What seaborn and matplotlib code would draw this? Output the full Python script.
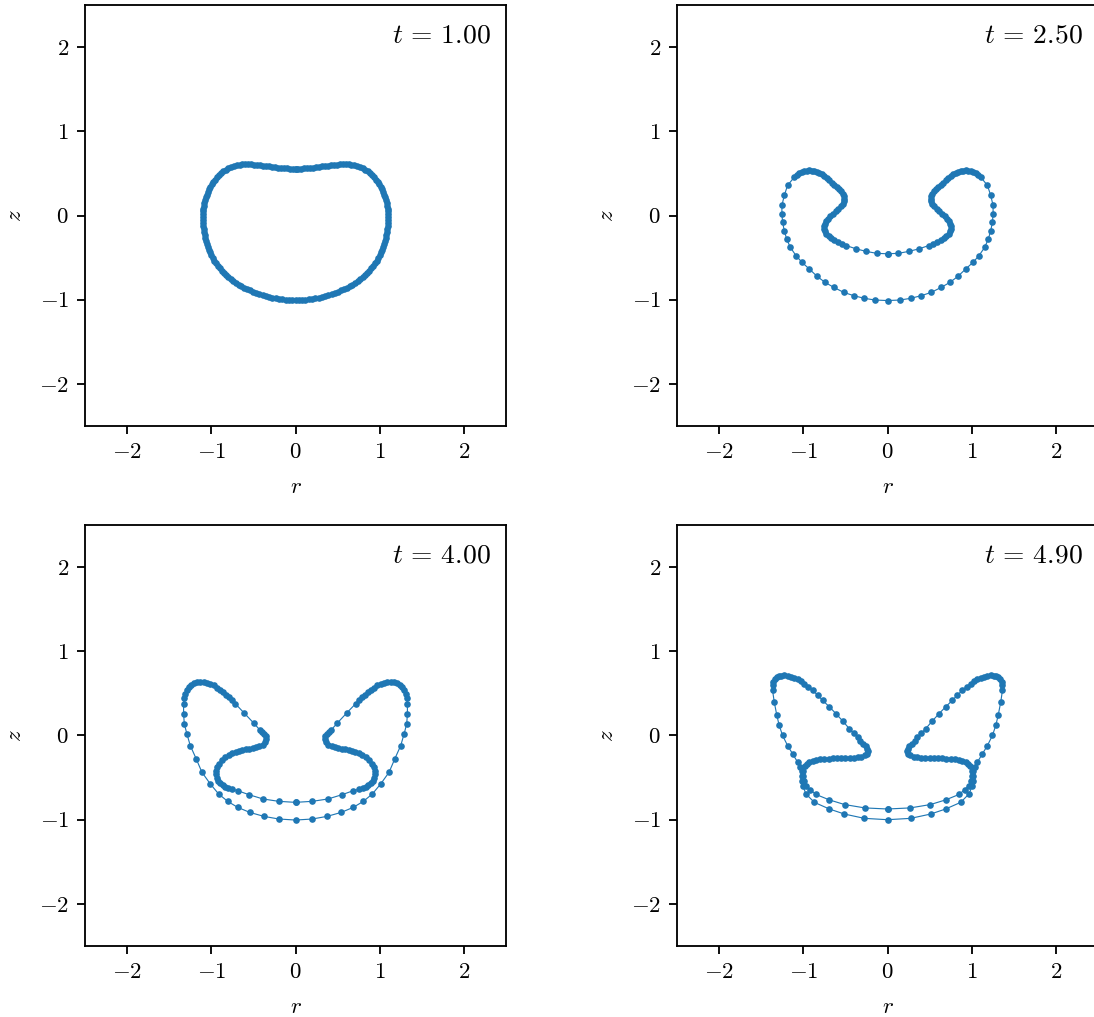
import matplotlib
matplotlib.use("Agg")
import matplotlib.pyplot as plt
import seaborn as sns
import pandas as pd

# Interface nodes (right half, r >= 0); the shape is axisymmetric, so the
# left half is the mirror image r -> -r.
times = ["1.00", "2.50", "4.00", "4.90"]

shape_t100 = [
    (0.000, 0.555), (0.035, 0.5555), (0.070, 0.557), (0.105, 0.559), (0.140, 0.561),
    (0.175, 0.564), (0.210, 0.568), (0.245, 0.572), (0.280, 0.577), (0.315, 0.582),
    (0.350, 0.588), (0.385, 0.593), (0.420, 0.597), (0.455, 0.601), (0.490, 0.605),
    (0.525, 0.608), (0.560, 0.609), (0.595, 0.609), (0.630, 0.607), (0.665, 0.603),
    (0.700, 0.597), (0.735, 0.588), (0.770, 0.575), (0.800, 0.562), (0.830, 0.545),
    (0.858, 0.526), (0.885, 0.503), (0.910, 0.479), (0.933, 0.454), (0.955, 0.427),
    (0.975, 0.399), (0.993, 0.370), (1.010, 0.340), (1.026, 0.310), (1.040, 0.279),
    (1.053, 0.247), (1.064, 0.215), (1.074, 0.182), (1.083, 0.149), (1.090, 0.116),
    (1.096, 0.082), (1.100, 0.048), (1.103, 0.014), (1.104, -0.020), (1.103, -0.055),
    (1.100, -0.090), (1.096, -0.125), (1.091, -0.160), (1.085, -0.195), (1.078, -0.230),
    (1.070, -0.265), (1.061, -0.300), (1.051, -0.335), (1.040, -0.370), (1.027, -0.404),
    (1.013, -0.438), (0.998, -0.471), (0.982, -0.504), (0.964, -0.536), (0.945, -0.567),
    (0.924, -0.597), (0.902, -0.626), (0.878, -0.655), (0.853, -0.682), (0.826, -0.708),
    (0.798, -0.733), (0.769, -0.757), (0.739, -0.779), (0.708, -0.800), (0.676, -0.820),
    (0.643, -0.839), (0.609, -0.857), (0.574, -0.874), (0.539, -0.890), (0.503, -0.905),
    (0.466, -0.919), (0.429, -0.932), (0.391, -0.944), (0.353, -0.955), (0.314, -0.965),
    (0.275, -0.974), (0.236, -0.982), (0.197, -0.989), (0.158, -0.994), (0.118, -0.998),
    (0.079, -1.000), (0.040, -1.000), (0.000, -1.000),
]

shape_t250 = [
    (0.00, -0.455), (0.13, -0.449), (0.25, -0.427), (0.37, -0.397), (0.49, -0.357),
    (0.54, -0.337), (0.59, -0.317), (0.63, -0.292), (0.67, -0.266), (0.70, -0.242),
    (0.73, -0.218), (0.745, -0.190), (0.75, -0.159), (0.75, -0.130), (0.742, -0.099),
    (0.73, -0.070), (0.71, -0.040), (0.685, -0.010), (0.651, 0.020), (0.615, 0.050),
    (0.583, 0.080), (0.555, 0.110), (0.532, 0.139), (0.518, 0.168), (0.512, 0.198),
    (0.515, 0.228), (0.532, 0.258), (0.55, 0.288), (0.571, 0.317), (0.60, 0.338),
    (0.631, 0.357), (0.66, 0.390), (0.69, 0.417), (0.72, 0.445), (0.75, 0.468),
    (0.78, 0.488), (0.81, 0.504), (0.84, 0.518), (0.869, 0.528), (0.90, 0.534),
    (0.929, 0.536), (0.96, 0.533), (0.988, 0.528), (1.018, 0.518), (1.048, 0.504),
    (1.08, 0.480), (1.107, 0.456), (1.187, 0.357), (1.226, 0.238), (1.254, 0.119),
    (1.254, 0.020), (1.246, -0.080), (1.226, -0.179), (1.198, -0.278), (1.155, -0.377),
    (1.087, -0.476), (1.016, -0.556), (0.929, -0.635), (0.837, -0.722), (0.742, -0.794),
    (0.639, -0.853), (0.52, -0.913), (0.401, -0.952), (0.274, -0.984), (0.147, -1.004),
    (0.00, -1.010),
]

shape_t400 = [
    (0.00, -0.794), (0.198, -0.782), (0.385, -0.754), (0.556, -0.702), (0.687, -0.655),
    (0.75, -0.640), (0.80, -0.628), (0.833, -0.615), (0.865, -0.593), (0.893, -0.567),
    (0.915, -0.535), (0.93, -0.500), (0.94, -0.460), (0.94, -0.417), (0.93, -0.375),
    (0.905, -0.335), (0.87, -0.290), (0.833, -0.258), (0.79, -0.230), (0.75, -0.210),
    (0.71, -0.195), (0.67, -0.183), (0.63, -0.174), (0.59, -0.166), (0.55, -0.158),
    (0.51, -0.150), (0.47, -0.140), (0.43, -0.128), (0.39, -0.108), (0.36, -0.080),
    (0.348, -0.045), (0.355, -0.010), (0.375, 0.015), (0.40, 0.040), (0.425, 0.067),
    (0.496, 0.147), (0.607, 0.266), (0.714, 0.377), (0.755, 0.420), (0.794, 0.456),
    (0.83, 0.485), (0.865, 0.515), (0.893, 0.536), (0.93, 0.565), (0.972, 0.595),
    (1.01, 0.612), (1.052, 0.623), (1.09, 0.632), (1.131, 0.635), (1.17, 0.632),
    (1.21, 0.623), (1.245, 0.600), (1.27, 0.575), (1.29, 0.540), (1.31, 0.496),
    (1.322, 0.440), (1.329, 0.377), (1.329, 0.258), (1.321, 0.139), (1.29, 0.020),
    (1.25, -0.119), (1.179, -0.278), (1.111, -0.437), (1.012, -0.575), (0.913, -0.694),
    (0.806, -0.782), (0.687, -0.853), (0.544, -0.913), (0.377, -0.960), (0.198, -0.992),
    (0.00, -1.004),
]

shape_t490 = [
    (0.00, -0.873), (0.27, -0.860), (0.51, -0.820), (0.69, -0.765), (0.85, -0.700),
    (0.917, -0.643), (0.968, -0.595), (0.996, -0.536), (1.008, -0.476), (1.00, -0.417),
    (0.98, -0.365), (0.955, -0.335), (0.929, -0.318), (0.89, -0.300), (0.849, -0.290),
    (0.80, -0.283), (0.75, -0.278), (0.70, -0.274), (0.65, -0.271), (0.60, -0.269),
    (0.55, -0.267), (0.50, -0.266), (0.45, -0.266), (0.40, -0.264), (0.35, -0.258),
    (0.31, -0.250), (0.27, -0.237), (0.245, -0.215), (0.234, -0.190), (0.24, -0.160),
    (0.26, -0.130), (0.294, -0.099), (0.325, -0.060), (0.353, -0.020), (0.40, 0.025),
    (0.452, 0.079), (0.53, 0.170), (0.611, 0.258), (0.69, 0.340), (0.77, 0.417),
    (0.83, 0.480), (0.889, 0.536), (0.94, 0.580), (0.988, 0.615), (1.03, 0.645),
    (1.067, 0.667), (1.107, 0.683), (1.147, 0.694), (1.186, 0.706), (1.226, 0.714),
    (1.26, 0.712), (1.286, 0.706), (1.315, 0.690), (1.337, 0.667), (1.355, 0.630),
    (1.365, 0.595), (1.365, 0.536), (1.345, 0.397), (1.314, 0.238), (1.286, 0.119),
    (1.246, 0.000), (1.187, -0.119), (1.127, -0.218), (1.067, -0.317), (1.035, -0.370),
    (1.02, -0.420), (1.015, -0.480), (1.015, -0.540), (1.008, -0.595), (0.968, -0.694),
    (0.869, -0.794), (0.69, -0.873), (0.512, -0.933), (0.274, -0.984), (0.00, -1.000),
]

shapes = [shape_t100, shape_t250, shape_t400, shape_t490]
ticks = [-2, -1, 0, 1, 2]


def closed_profile(half):
    """Right half followed by its mirror image, traversed back to the start."""
    r = [p[0] for p in half]
    z = [p[1] for p in half]
    r_full = r + [-v for v in r[-2::-1]]
    z_full = z + z[-2::-1]
    return pd.DataFrame({"r": r_full, "z": z_full})


plt.rcParams.update({
    "mathtext.fontset": "cm",
    "font.family": "serif",
    "font.serif": ["cmr10", "DejaVu Serif"],
    "axes.formatter.use_mathtext": True,
    "axes.unicode_minus": True,
})

dpi = 165
fig = plt.figure(figsize=(1094 / dpi, 1017 / dpi), dpi=dpi)

W, H = 1094.0, 1017.0
ax_w, ax_h = 421.0, 421.0
lefts = [85.0, 677.0]
tops = [5.0, 525.0]

color = "#1f77b4"
for i, (half, t) in enumerate(zip(shapes, times)):
    row, col = divmod(i, 2)
    ax = fig.add_axes([lefts[col] / W, 1 - (tops[row] + ax_h) / H, ax_w / W, ax_h / H])
    df = closed_profile(half)
    sns.lineplot(data=df, x="r", y="z", sort=False, estimator=None, ax=ax,
                 color=color, linewidth=0.5, marker="o", markersize=2.9,
                 markeredgewidth=0)
    ax.set_xlim(-2.5, 2.5)
    ax.set_ylim(-2.5, 2.5)
    ax.set_xticks(ticks)
    ax.set_yticks(ticks)
    ax.set_xlabel(r"$r$", labelpad=7)
    ax.set_ylabel(r"$z$", labelpad=6)
    ax.text(0.965, 0.955, rf"$t\,=\,{t}$", transform=ax.transAxes,
            ha="right", va="top", fontsize=12)

fig.savefig("out.png", dpi=dpi)
